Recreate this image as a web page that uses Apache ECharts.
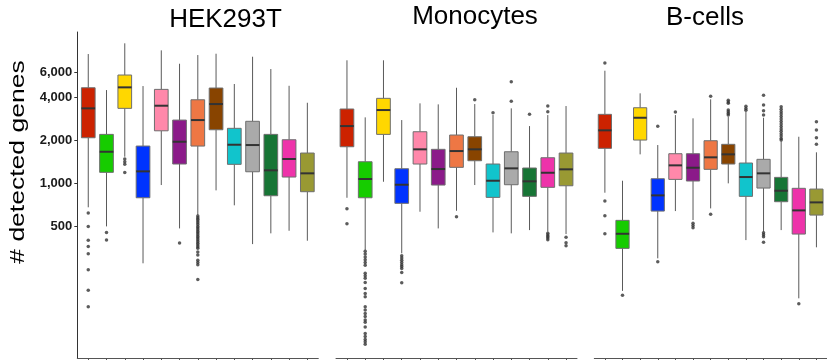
<!DOCTYPE html>
<html><head><meta charset="utf-8">
<script src="https://cdn.jsdelivr.net/npm/echarts/dist/echarts.min.js"></script>
<style>html,body{margin:0;padding:0;background:#fff}#c{width:827px;height:360px}</style>
</head><body><div id="c"></div>
<script>
const panels = ['HEK293T', 'Monocytes', 'B-cells'];
const categories = ['M1','M2','M3','M4','M5','M6','M7','M8','M9','M10','M11','M12','M13'];
const colors = ['#CC2200','#16CC00','#FFD700','#0033FF','#FF88AA','#8B1A89','#EE7744',
                '#884400','#11C4CC','#AAAAAA','#177535','#EE33AA','#999933'];
const yTicks = [500, 1000, 2000, 4000, 6000];

// [lower whisker, Q1, median, Q3, upper whisker]
const hekStats = [
  [680, 2084, 3345, 4660, 8020],
  [500, 1194, 1663, 2200, 4490],
  [1535, 3345, 4690, 5720, 9530],
  [276, 793, 1213, 1823, 4790],
  [973, 2330, 3490, 4540, 8510],
  [484, 1365, 1954, 2770, 6860],
  [600, 1823, 2770, 3840, 7890],
  [893, 2370, 3585, 4640, 8060],
  [702, 1358, 1862, 2425, 4950],
  [376, 1205, 1853, 2715, 7680],
  [447, 819, 1233, 2200, 6300],
  [466, 1107, 1480, 2018, 4810],
  [397, 874, 1175, 1629, 3660]
];
const monoStats = [
  [793, 1803, 2515, 3310, 7250],
  [342, 793, 1072, 1416, 2893],
  [1026, 2200, 3255, 3930, 7250],
  [324, 725, 978, 1265, 2770],
  [633, 1365, 1729, 2295, 3625],
  [484, 973, 1259, 1729, 3567],
  [643, 1294, 1682, 2177, 4660],
  [973, 1439, 1729, 2118, 3585],
  [454, 798, 1043, 1365, 3003],
  [447, 978, 1273, 1663, 3345],
  [471, 811, 1033, 1280, 2515],
  [459, 938, 1186, 1510, 3003],
  [442, 962, 1253, 1629, 3472]
];
const bcellStats = [
  [860, 1757, 2348, 3037, 6130],
  [177, 351, 444, 551, 1043],
  [1595, 2008, 2875, 3378, 4260],
  [299, 640, 824, 1077, 1853],
  [640, 1066, 1336, 1611, 3003],
  [554, 1038, 1286, 1611, 2848],
  [668, 1253, 1520, 1986, 3868],
  [1000, 1365, 1595, 1874, 2922],
  [401, 811, 1107, 1387, 3168],
  [459, 927, 1175, 1472, 2875],
  [471, 744, 888, 1101, 1970],
  [157, 442, 647, 923, 2118],
  [357, 600, 736, 912, 1648]
];

// outliers: [category index, value]
const hekOutliers = [
  [0,620],[0,500],[0,400],[0,362],[0,322],[0,249],[0,179],[0,137],
  [1,454],[1,401],
  [2,1480],[2,1415],[2,1360],[2,1190],
  [5,382],
  [6,590],[6,575],[6,560],[6,545],[6,530],[6,515],[6,500],[6,487],[6,474],[6,461],[6,449],
  [6,437],[6,425],[6,414],[6,403],[6,392],[6,381],[6,371],[6,361],[6,351],[6,331],[6,315],
  [6,290],[6,280],[6,270],[6,213]
];
const monoOutliers = [
  [0,664],[0,522],
  [1,335],[1,320],[1,305],[1,292],[1,280],[1,268],[1,235],[1,226],[1,217],[1,203],
  [1,184],[1,170],[1,161],[1,137],[1,130],[1,123],[1,117],[1,111],[1,107],[1,99],
  [1,89],[1,85],[1,81],[1,78],[1,75],
  [3,312],[3,300],[3,290],[3,280],[3,270],[3,262],[3,254],[3,238],[3,202],
  [6,584],
  [7,3840],
  [8,3117],
  [9,5135],[9,3745],
  [10,3037],
  [11,3472],[11,3168],[11,447],[11,436],[11,425],[11,414],[11,404],
  [12,419],[12,384],[12,366]
];
const bcellOutliers = [
  [0,6940],[0,752],[0,593],[0,444],
  [1,165],
  [3,2503],[3,283],
  [4,3152],
  [5,525],[5,507],[5,490],
  [6,4058],[6,607],
  [7,3805],[7,3700],[7,3630],[7,3255],[7,3168],[7,3076],[7,3003],
  [8,3455],[8,3335],[8,3240],
  [9,4125],[9,3528],[9,3218],[9,3003],[9,451],[9,437],[9,423],[9,387],
  [10,3433],[10,3300],[10,3170],[10,3050],[10,2930],[10,2820],[10,2710],[10,2600],
  [10,2500],[10,2400],[10,2310],[10,2220],[10,2140],[10,2060],[10,2010],
  [11,144],
  [12,2697],[12,2359],[12,2084],[12,1874]
];

const statsByPanel = [hekStats, monoStats, bcellStats];
const outByPanel = [hekOutliers, monoOutliers, bcellOutliers];
const gridLefts = [77.3, 336, 594.3];
const titleX = [225.5, 475, 705];
const titleY = [20.3, 17.3, 17.7];

function renderBox(params, api) {
  const x = api.value(0);
  const lo = api.coord([x, api.value(1)]);
  const q1 = api.coord([x, api.value(2)]);
  const md = api.coord([x, api.value(3)]);
  const q3 = api.coord([x, api.value(4)]);
  const hi = api.coord([x, api.value(5)]);
  const left = api.coord([x - 0.375, api.value(3)])[0];
  const right = api.coord([x + 0.375, api.value(3)])[0];
  const cx = lo[0];
  const col = colors[params.dataIndex];
  return {
    type: 'group',
    children: [
      {type: 'line', shape: {x1: cx, y1: hi[1], x2: cx, y2: q3[1]}, style: {stroke: '#5a5a5a', lineWidth: 1}},
      {type: 'line', shape: {x1: cx, y1: q1[1], x2: cx, y2: lo[1]}, style: {stroke: '#5a5a5a', lineWidth: 1}},
      {type: 'rect', shape: {x: left, y: q3[1], width: right - left, height: q1[1] - q3[1]},
       style: {fill: col, stroke: '#6e6e6e', lineWidth: 1}},
      {type: 'line', shape: {x1: left, y1: md[1], x2: right, y2: md[1]}, style: {stroke: '#333', lineWidth: 2}}
    ]
  };
}

const grid = [], xAxis = [], yAxis = [], series = [];
for (let p = 0; p < 3; p++) {
  grid.push({left: gridLefts[p], width: 241, top: 32, height: 326.5});
  xAxis.push({
    type: 'value', gridIndex: p, min: 0.4, max: 13.6,
    axisLine: {show: true, lineStyle: {color: '#555', width: 1}},
    axisTick: {show: true, length: 4, customValues: categories.map((c, i) => i + 1), lineStyle: {color: '#555'}},
    axisLabel: {show: false},
    splitLine: {show: false}
  });
  yAxis.push({
    type: 'log', logBase: 10, gridIndex: p, min: 59.6, max: 11436,
    axisLine: {show: p === 0, lineStyle: {color: '#333', width: 1}},
    axisTick: {show: p === 0, length: 3, customValues: yTicks, lineStyle: {color: '#333'}},
    axisLabel: {
      show: p === 0, customValues: yTicks, margin: 5,
      fontFamily: 'Liberation Sans', fontWeight: 'bold', fontSize: 13, color: '#1a1a1a',
      formatter: v => Math.round(v).toLocaleString('en-US')
    },
    splitLine: {show: false}
  });
  series.push({
    type: 'custom', xAxisIndex: p, yAxisIndex: p,
    renderItem: renderBox,
    encode: {x: 0, y: [1, 2, 3, 4, 5]},
    data: statsByPanel[p].map((s, i) => [i + 1].concat(s)),
    silent: true
  });
  series.push({
    type: 'scatter', xAxisIndex: p, yAxisIndex: p,
    symbolSize: 3.5,
    itemStyle: {color: '#333'},
    data: outByPanel[p].map(o => [o[0] + 1, o[1]]),
    silent: true
  });
}

const graphic = panels.map((t, p) => ({
  type: 'text', x: titleX[p], y: titleY[p],
  style: {text: t, font: '26px "Liberation Sans"', fill: '#000', align: 'center', verticalAlign: 'middle'}
}));
graphic.push({
  type: 'text', x: 19, y: 162, rotation: Math.PI / 2, scaleX: 1.36,
  style: {text: '# detected genes', font: '19.5px "Liberation Sans"', fill: '#000', align: 'center', verticalAlign: 'middle'}
});

const chart = echarts.init(document.getElementById('c'), null, {renderer: 'canvas'});
chart.setOption({
  animation: false,
  backgroundColor: '#fff',
  grid, xAxis, yAxis, series, graphic
});
</script>
</body></html>
